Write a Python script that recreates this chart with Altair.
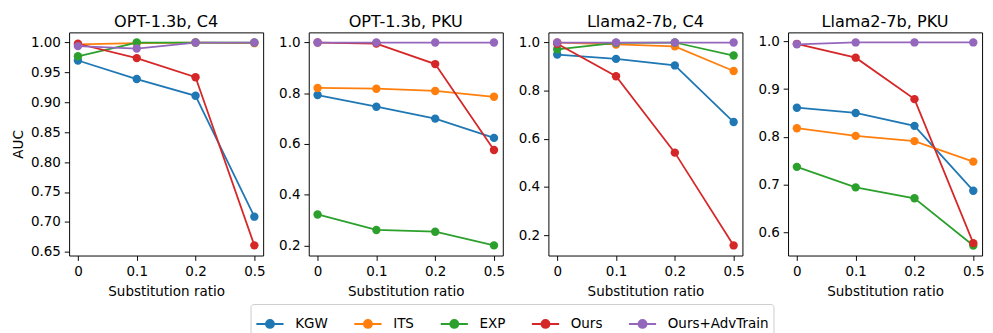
import altair as alt
import pandas as pd

ratios = ["0", "0.1", "0.2", "0.5"]
methods = ["KGW", "ITS", "EXP", "Ours", "Ours+AdvTrain"]
colors = ["#1f77b4", "#ff7f0e", "#2ca02c", "#d62728", "#9467bd"]
panel_titles = ["OPT-1.3b, C4", "OPT-1.3b, PKU", "Llama2-7b, C4", "Llama2-7b, PKU"]

# OPT-1.3b, C4
opt_c4_kgw = [0.970, 0.939, 0.911, 0.709]
opt_c4_its = [0.997, 0.999, 1.000, 0.999]
opt_c4_exp = [0.977, 1.000, 1.000, 1.000]
opt_c4_ours = [0.998, 0.974, 0.942, 0.661]
opt_c4_adv = [0.994, 0.990, 1.000, 1.000]

# OPT-1.3b, PKU
opt_pku_kgw = [0.793, 0.747, 0.700, 0.624]
opt_pku_its = [0.821, 0.818, 0.809, 0.786]
opt_pku_exp = [0.322, 0.261, 0.254, 0.200]
opt_pku_ours = [1.000, 0.996, 0.915, 0.576]
opt_pku_adv = [1.000, 1.000, 1.000, 1.000]

# Llama2-7b, C4
llama_c4_kgw = [0.950, 0.932, 0.905, 0.670]
llama_c4_its = [1.000, 0.992, 0.984, 0.882]
llama_c4_exp = [0.972, 0.998, 1.000, 0.946]
llama_c4_ours = [0.995, 0.860, 0.543, 0.158]
llama_c4_adv = [1.000, 1.000, 1.000, 1.000]

# Llama2-7b, PKU
llama_pku_kgw = [0.861, 0.850, 0.823, 0.687]
llama_pku_its = [0.818, 0.802, 0.791, 0.748]
llama_pku_exp = [0.737, 0.694, 0.671, 0.572]
llama_pku_ours = [0.995, 0.966, 0.879, 0.577]
llama_pku_adv = [0.994, 0.998, 0.998, 0.998]

panels = [
    [opt_c4_kgw, opt_c4_its, opt_c4_exp, opt_c4_ours, opt_c4_adv],
    [opt_pku_kgw, opt_pku_its, opt_pku_exp, opt_pku_ours, opt_pku_adv],
    [llama_c4_kgw, llama_c4_its, llama_c4_exp, llama_c4_ours, llama_c4_adv],
    [llama_pku_kgw, llama_pku_its, llama_pku_exp, llama_pku_ours, llama_pku_adv],
]

y_domains = [(0.644, 1.017), (0.16, 1.04), (0.116, 1.042), (0.551, 1.019)]
y_ticks = [
    [0.65, 0.70, 0.75, 0.80, 0.85, 0.90, 0.95, 1.00],
    [0.2, 0.4, 0.6, 0.8, 1.0],
    [0.2, 0.4, 0.6, 0.8, 1.0],
    [0.6, 0.7, 0.8, 0.9, 1.0],
]
y_formats = [".2f", ".1f", ".1f", ".1f"]

FONT = "DejaVu Sans"
FS = 13.9
sym_path = "M-1,0L1,0M0.29,0A0.29,0.29,0,1,1,-0.29,0A0.29,0.29,0,1,1,0.29,0Z"

legend = alt.Legend(
    title=None,
    orient="none",
    direction="horizontal",
    columns=5,
    legendX=187,
    legendY=280,
    symbolType=sym_path,
    symbolSize=784,
    symbolStrokeWidth=2,
    labelFontSize=FS,
    labelFont=FONT,
    labelColor="black",
    labelOffset=11,
    columnPadding=23,
    padding=5,
    strokeColor="#cccccc",
    fillColor="white",
    cornerRadius=3,
)

charts = []
for i, (title, series) in enumerate(zip(panel_titles, panels)):
    rows = []
    for m, vals in zip(methods, series):
        for r, v in zip(ratios, vals):
            rows.append({"ratio": r, "method": m, "auc": v})
    df = pd.DataFrame(rows)
    x = alt.X("ratio:N", sort=ratios, scale=alt.Scale(type="point", padding=0.15),
              axis=alt.Axis(title="Substitution ratio", labelAngle=0, grid=False,
                            labelPadding=5, titlePadding=6))
    y = alt.Y("auc:Q", scale=alt.Scale(domain=list(y_domains[i]), nice=False, zero=False),
              axis=alt.Axis(title="AUC" if i == 0 else None, values=y_ticks[i],
                            format=y_formats[i], grid=False, labelPadding=4, titlePadding=5))
    base = alt.Chart(df)
    line = base.mark_line(strokeWidth=1.8).encode(
        x=x, y=y,
        stroke=alt.Stroke("method:N", scale=alt.Scale(domain=methods, range=colors), sort=methods, legend=legend),
        order=alt.Order("ratio:N"),
    )
    pts = base.mark_point(filled=True, size=75, opacity=1).encode(
        x=x, y=y,
        fill=alt.Fill("method:N", scale=alt.Scale(domain=methods, range=colors), sort=methods, legend=legend),
    )
    ch = alt.layer(line, pts).properties(
        width=200, height=230,
        title=alt.TitleParams(title, fontSize=16.6, font=FONT, fontWeight="normal", color="black", offset=2),
    )
    charts.append(ch)

chart = alt.hconcat(*charts, spacing=12).resolve_scale(
    y="independent", stroke="shared", fill="shared"
).configure(
    font=FONT
).configure_view(
    stroke="black", strokeWidth=1
).configure_axis(
    grid=False, domain=False, tickColor="black", tickSize=5,
    labelFont=FONT, labelFontSize=FS, labelColor="black",
    titleFont=FONT, titleFontSize=FS, titleColor="black", titleFontWeight="normal",
).properties(padding={"left": 3, "right": 0, "top": 0, "bottom": 0})

chart.save("out.html", embed_options={"renderer": "svg", "actions": False})
